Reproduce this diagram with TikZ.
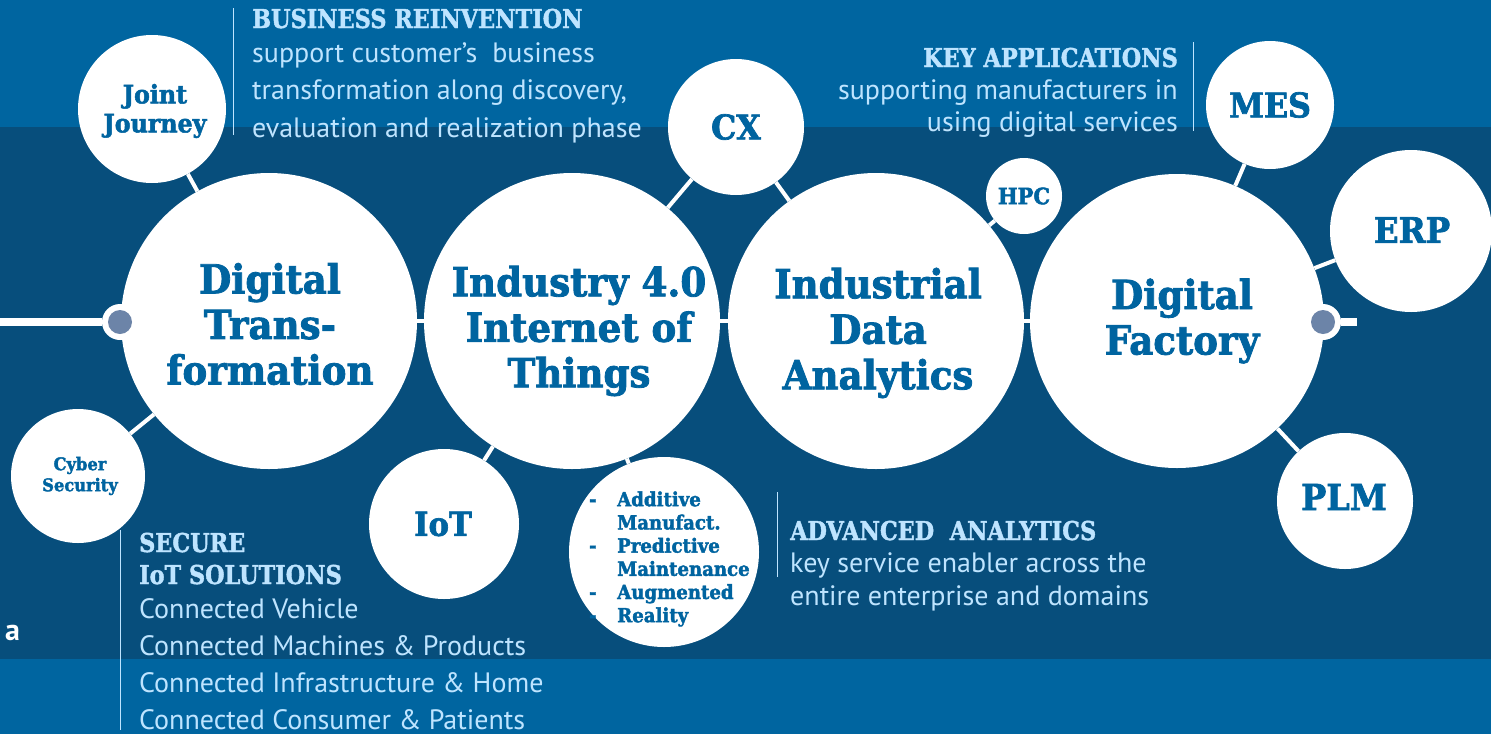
\documentclass[tikz,border=0pt]{standalone}
\usepackage{fontspec}
\setmainfont{PT Sans}
\newfontfamily\slab{DejaVu Serif Bold}[FakeStretch=0.93,FakeBold=2]
\newfontfamily\slabh{DejaVu Serif Bold}[FakeStretch=0.86,FakeBold=1.5]
\newfontfamily\bodyf{PT Sans}
\definecolor{bandlight}{RGB}{0,101,160}
\definecolor{banddark}{RGB}{7,78,124}
\definecolor{txtlight}{RGB}{190,228,255}
\definecolor{circtxt}{RGB}{0,100,160}
\definecolor{dotgray}{RGB}{108,132,168}
\tikzset{
  bubble/.style={circle,fill=white,inner sep=0pt,minimum size=#1},
  link/.style={white,line width=4pt},
  ctext/.style={text=circtxt,inner sep=0pt,align=center,font=\slab},
  head/.style={text=txtlight,inner sep=0pt,font=\slabh\fontsize{26}{30}\selectfont},
  body/.style={text=txtlight,inner sep=0pt,font=\bodyf\fontsize{28}{34}\selectfont},
  sep/.style={txtlight,line width=1pt},
}
\begin{document}
\begin{tikzpicture}[x=1pt,y=-1pt]
\useasboundingbox (0,0) rectangle (1491,734);
\fill[bandlight] (0,0) rectangle (1491,127);
\fill[banddark] (0,127) rectangle (1491,659);
\fill[bandlight] (0,659) rectangle (1491,734);

% main circles
\node[bubble=296pt] (dt) at (269,321) {};
\node[bubble=296pt] (ind) at (572,321) {};
\node[bubble=296pt] (ida) at (876,321) {};
\node[bubble=294pt] (df) at (1177,321) {};
% satellites
\node[bubble=148pt] (jj) at (152,109) {};
\node[bubble=134pt] (cs) at (78,476) {};
\node[bubble=150pt] (iot) at (444,524) {};
\node[bubble=190pt] (add) at (664,552) {};
\node[bubble=136pt] (cx) at (736,127) {};
\node[bubble=76pt] (hpc) at (1024,196) {};
\node[bubble=128pt] (mes) at (1270,105) {};
\node[bubble=162pt] (erp) at (1411,231) {};
\node[bubble=136pt] (plm) at (1345,501) {};

% connectors
\draw[link] (dt) -- (ind);
\draw[link] (ind) -- (ida);
\draw[link] (ida) -- (df);
\draw[link] (jj) -- (dt);
\draw[link] (cs) -- (dt);
\draw[link] (iot) -- (ind);
\draw[link] (add) -- (ind);
\draw[link] (cx) -- (ind);
\draw[link] (cx) -- (ida);
\draw[link] (hpc) -- (ida);
\draw[link] (mes) -- (df);
\draw[link] (erp) -- (df);
\draw[link] (plm) -- (df);

% end dots
\coordinate (lend) at (0,322);
\coordinate (rend) at (1357,322);
\node[circle,fill=white,minimum size=36pt,inner sep=0pt] (ldotw) at (120,322) {};
\node[circle,fill=dotgray,minimum size=24pt,inner sep=0pt] (ldot) at (120,322) {};
\node[circle,fill=white,minimum size=36pt,inner sep=0pt] (rdotw) at (1323,322) {};
\node[circle,fill=dotgray,minimum size=24pt,inner sep=0pt] (rdot) at (1323,322) {};
\draw[white,line width=8pt] (lend) -- (ldotw.west);
\draw[white,line width=8pt] (rdotw.east) -- (rend);

% circle labels
\node[ctext,font=\slab\fontsize{40}{45.5}\selectfont] (tdt) at (270,324) {Digital\\Trans-\\formation};
\node[ctext,font=\slab\fontsize{40}{45.5}\selectfont] (tind) at (579,331) {Industry 4.0\\Internet of\\Things};
\node[ctext,font=\slab\fontsize{40}{45.5}\selectfont] (tida) at (878,333) {Industrial\\Data\\Analytics};
\node[ctext,font=\slab\fontsize{40}{45.5}\selectfont] (tdf) at (1182,321) {Digital\\Factory};
\node[ctext,font=\slab\fontsize{25.5}{29}\selectfont] (tjj) at (155,111) {Joint\\Journey};
\node[ctext,font=\slab\fontsize{17.5}{21}\selectfont] (tcs) at (80,476) {Cyber\\Security};
\node[ctext,font=\slab\fontsize{33}{40}\selectfont] (tiot) at (443,524) {IoT};
\node[ctext,font=\slab\fontsize{34}{40}\selectfont] (tcx) at (736,127) {CX};
\node[ctext,font=\slab\fontsize{22.5}{25}\selectfont] (thpc) at (1024,196) {HPC};
\node[ctext,font=\slab\fontsize{34}{40}\selectfont] (tmes) at (1270,105) {MES};
\node[ctext,font=\slab\fontsize{35}{40}\selectfont] (terp) at (1412,230) {ERP};
\node[ctext,font=\slab\fontsize{36}{40}\selectfont] (tplm) at (1344,497) {PLM};

% list in additive circle
\foreach \t [count=\i] in {Additive,Manufact.,Predictive,Maintenance,Augmented,Reality}
  \node[text=circtxt,inner sep=0pt,anchor=base west,font=\slab\fontsize{19.5}{23}\selectfont] (li\i) at (617,{483+23.2*\i}) {\t};
\foreach \k/\yy in {1/506,2/552.4,3/598.8,4/622}
  \node[text=circtxt,inner sep=0pt,anchor=base west,font=\slab\fontsize{19.5}{23}\selectfont] (ld\k) at (589,\yy) {-};

% separators
\coordinate (s1a) at (233,8); \coordinate (s1b) at (233,135);
\coordinate (s2a) at (1193,42); \coordinate (s2b) at (1193,131);
\coordinate (s3a) at (777,492); \coordinate (s3b) at (777,577);
\coordinate (s4a) at (120,530); \coordinate (s4b) at (120,730);
\draw[sep] (s1a) -- (s1b);
\draw[sep] (s2a) -- (s2b);
\draw[sep] (s3a) -- (s3b);
\draw[sep] (s4a) -- (s4b);

% business reinvention
\node[head,anchor=base west] (br0) at (252,28) {BUSINESS REINVENTION};
\node[body,anchor=base west] (br1) at (252,62) {support customer’s\ \ business};
\node[body,anchor=base west] (br2) at (252,99) {transformation along discovery,};
\node[body,anchor=base west] (br3) at (252,137) {evaluation and realization phase};

% key applications
\node[head,anchor=base east] (ka0) at (1178,67) {KEY APPLICATIONS};
\node[body,anchor=base east] (ka1) at (1178,99) {supporting manufacturers in};
\node[body,anchor=base east] (ka2) at (1178,131) {using digital services};

% advanced analytics
\node[head,anchor=base west] (aa0) at (790,540) {ADVANCED\ \ ANALYTICS};
\node[body,anchor=base west] (aa1) at (790,572) {key service enabler across the};
\node[body,anchor=base west] (aa2) at (790,605) {entire enterprise and domains};

% secure iot
\node[head,anchor=base west] (si0) at (139,552) {SECURE};
\node[head,anchor=base west] (si1) at (139,584) {IoT SOLUTIONS};
\node[body,anchor=base west] (si2) at (139,618) {Connected Vehicle};
\node[body,anchor=base west] (si3) at (139,655) {Connected Machines \& Products};
\node[body,anchor=base west] (si4) at (139,692) {Connected Infrastructure \& Home};
\node[body,anchor=base west] (si5) at (139,729) {Connected Consumer \& Patients};

\node[text=white,inner sep=0pt,anchor=base west,font=\bodyf\bfseries\fontsize{30}{34}\selectfont] (aa) at (5,640) {a};
\end{tikzpicture}
\end{document}
